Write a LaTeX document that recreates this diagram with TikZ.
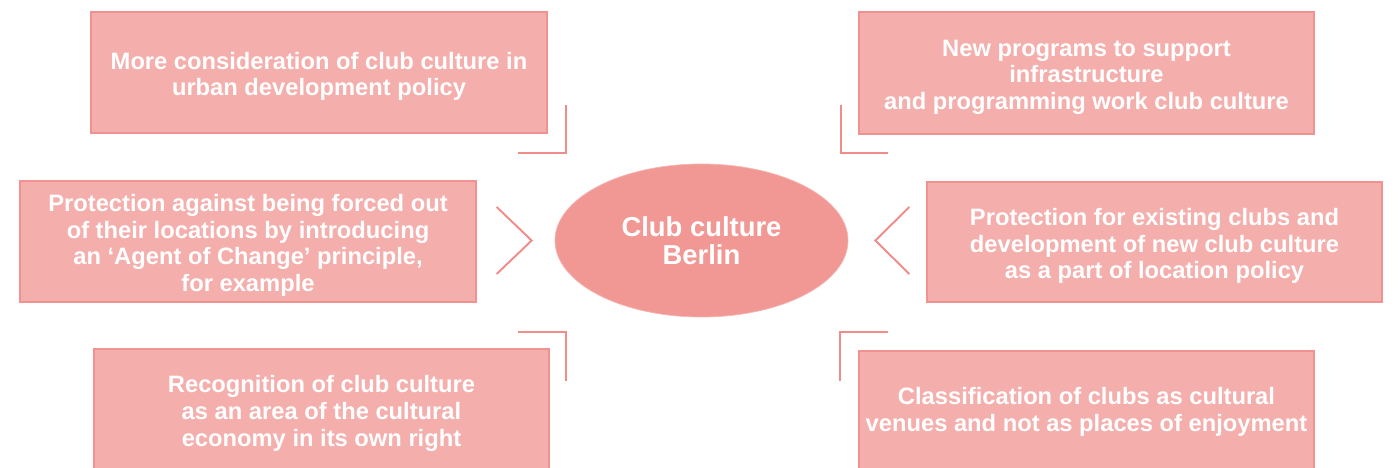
\documentclass[tikz,border=0pt]{standalone}
\usepackage{fontspec}
\setmainfont{Liberation Sans}
\usepackage{xcolor}
\definecolor{clubfill}{RGB}{244,174,172}
\definecolor{clubedge}{RGB}{240,146,143}
\definecolor{clubhub}{RGB}{241,151,148}
\definecolor{clubline}{RGB}{240,140,138}
\usepackage{tikz}
\usetikzlibrary{shapes.geometric}
\newcommand{\toppad}{\rule{0pt}{14.2pt}}
\tikzset{
  goalbox/.style ={rectangle,draw=clubedge,line width=0.8pt,fill=clubfill,
                   align=center,minimum width=9.12cm,minimum height=2.42cm,inner ysep=0pt,
                   text=white,font=\bfseries\fontsize{13.5}{15.3}\selectfont},
  hubnode/.style ={ellipse,draw=clubhub!70!white,line width=0.4pt,fill=clubhub,
                   align=center,minimum width=5.86cm,minimum height=3.06cm,
                   text=white,font=\bfseries\fontsize{15.6}{16}\selectfont},
  chevron/.style ={draw=clubline,line width=1.1pt},
  corner/.style  ={draw=clubline,line width=1.1pt},
}
\begin{document}
\begin{tikzpicture}
  \useasboundingbox (0,0) rectangle (28,-9.36);
  \node[hubnode] (hub) at (14.03,-4.81) {Club culture\\Berlin};
  \node[goalbox] (tl) at (6.38,-1.45) {\toppad More consideration of club culture in\\urban development policy};
  \node[goalbox,minimum width=9.1cm,minimum height=2.44cm] (tr) at (21.73,-1.46) {\toppad New programs to support\\infrastructure\\and programming work club culture};
  \node[goalbox] (ml) at (4.96,-4.83) {\toppad Protection against being forced out\\of their locations by introducing\\an ‘Agent of Change’ principle,\\for example};
  \node[goalbox,minimum width=9.1cm,minimum height=2.4cm] (mr) at (23.09,-4.84) {\toppad Protection for existing clubs and\\development of new club culture\\as a part of location policy};
  \node[goalbox,minimum width=9.1cm] (bl) at (6.43,-8.19) {\toppad Recognition of club culture\\as an area of the cultural\\economy in its own right};
  \node[goalbox,minimum width=9.1cm] (br) at (21.73,-8.23) {Classification of clubs as cultural\\venues and not as places of enjoyment};
  % chevrons pointing at the hub
  \draw[chevron] ([shift={(-1.16,0.67)}]hub.west) -- ([shift={(-0.46,0)}]hub.west) -- ([shift={(-1.16,-0.67)}]hub.west);
  \draw[chevron] ([shift={(1.22,0.67)}]hub.east) -- ([shift={(0.54,0)}]hub.east) -- ([shift={(1.22,-0.67)}]hub.east);
  % corner marks
  \draw[corner] ([shift={(-0.6,-0.38)}]tl.south east) -| ([shift={(0.36,0.58)}]tl.south east);
  \draw[corner] ([shift={(-0.34,0.6)}]tr.south west) |- ([shift={(0.6,-0.36)}]tr.south west);
  \draw[corner] ([shift={(-0.64,0.32)}]bl.north east) -| ([shift={(0.32,-0.66)}]bl.north east);
  \draw[corner] ([shift={(-0.36,-0.62)}]br.north west) |- ([shift={(0.6,0.36)}]br.north west);
\end{tikzpicture}
\end{document}
